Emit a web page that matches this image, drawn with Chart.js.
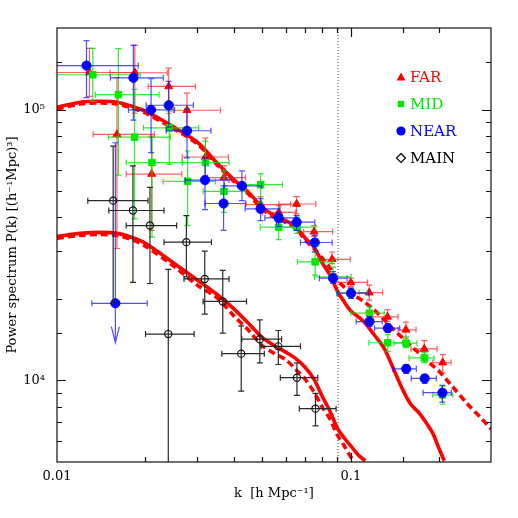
<!DOCTYPE html>
<html><head><meta charset="utf-8">
<script src="https://cdn.jsdelivr.net/npm/chart.js@4.4.1/dist/chart.umd.min.js"></script>
<style>html,body{margin:0;padding:0;background:#fff}canvas{display:block}</style>
</head><body>
<canvas id="c" width="518" height="518"></canvas>
<script>
// ---------------- data ----------------
const FAR_K   = [0.0129,0.0160,0.0184,0.0210,0.0240,0.0277,0.0320,0.0370,0.0493,0.0568,0.0654,0.0750,0.0864,0.100,0.1155,0.1333,0.1540,0.1778,0.2055];
const FAR_P   = [1.37e5,8.10e4,1.367e5,5.78e4,1.217e5,9.94e4,6.68e4,5.61e4,4.46e4,4.17e4,4.48e4,3.54e4,2.80e4,2.30e4,2.11e4,1.717e4,1.538e4,1.307e4,1.164e4];
const FAR_KLO = [0.009,0.01327,0.01516,0.0172,0.02045,0.02488,0.0267,0.0325,0.0438,0.0500,0.0569,0.0691,0.0778,0.0889,0.1067,0.1173,0.1448,0.1603,0.1900];
const FAR_KHI = [0.01875,0.02144,0.02374,0.0266,0.0296,0.0360,0.0383,0.0438,0.0624,0.0649,0.0760,0.0867,0.0995,0.1140,0.1283,0.1448,0.1667,0.1966,0.2194];
const FAR_PLO = [1.119e5,3.07e4,9.69e4,3.58e4,9.69e4,8.54e4,5.69e4,5.02e4,4.17e4,3.89e4,4.12e4,3.40e4,2.70e4,2.22e4,1.98e4,1.650e4,1.434e4,1.211e4,1.067e4];
const FAR_PHI = [1.682e5,1.313e5,1.728e5,7.98e4,1.421e5,1.150e5,7.85e4,6.20e4,4.77e4,4.42e4,4.77e4,3.73e4,2.98e4,2.385e4,2.25e4,1.822e4,1.642e4,1.402e4,1.245e4];

const MID_K   = [0.01324,0.01618,0.01836,0.02105,0.02411,0.02784,0.0320,0.0370,0.0493,0.0568,0.0656,0.0756,0.0870,0.100,0.1157,0.1336,0.1543,0.1781,0.2052];
const MID_P   = [1.344e5,1.135e5,7.91e4,6.37e4,8.56e4,5.43e4,6.37e4,4.99e4,5.28e4,3.68e4,3.68e4,2.74e4,2.41e4,2.10e4,1.771e4,1.378e4,1.373e4,1.211e4,8.85e3];
const MID_KLO = [0.009,0.01351,0.01497,0.0172,0.0197,0.02296,0.0268,0.03143,0.0421,0.0492,0.0568,0.0658,0.0752,0.0897,0.100,0.1152,0.1402,0.1578,0.1900];
const MID_KHI = [0.0192,0.02224,0.02431,0.02665,0.03035,0.03461,0.0385,0.0438,0.0585,0.0651,0.0760,0.0867,0.1002,0.1143,0.1299,0.1502,0.1680,0.1920,0.2224];
const MID_PLO = [1.073e5,5.73e4,3.95e4,3.38e4,6.28e4,3.73e4,5.37e4,4.17e4,4.54e4,3.31e4,3.49e4,2.45e4,2.31e4,2.01e4,1.674e4,1.280e4,1.321e4,1.164e4,8.17e3];
const MID_PHI = [1.682e5,1.678e5,1.187e5,7.87e4,9.86e4,7.03e4,7.65e4,5.94e4,5.79e4,4.00e4,4.00e4,2.98e4,2.62e4,2.19e4,1.873e4,1.475e4,1.450e4,1.266e4,9.53e3];

const NEAR_K   = [0.0126,0.0158,0.0182,0.0209,0.0240,0.0277,0.0319,0.0369,0.0426,0.0493,0.0568,0.0654,0.0754,0.0870,0.1002,0.1158,0.1337,0.1544,0.1784,0.2049];
const NEAR_P   = [1.453e5,1.927e4,1.310e5,9.97e4,1.037e5,8.35e4,5.49e4,4.50e4,5.23e4,4.30e4,3.98e4,3.84e4,3.23e4,2.385e4,2.10e4,1.650e4,1.560e4,1.104e4,1.017e4,9.01e3];
const NEAR_KLO = [0.009,0.01314,0.0152,0.01751,0.0201,0.02355,0.0273,0.0319,0.0371,0.0437,0.0510,0.0559,0.0674,0.0782,0.0898,0.1043,0.1205,0.1391,0.1606,0.1761];
const NEAR_KHI = [0.0189,0.02028,0.0230,0.02513,0.0291,0.0334,0.0385,0.0439,0.0497,0.0574,0.0649,0.0754,0.0864,0.0971,0.1149,0.1279,0.1467,0.1671,0.1954,0.2199];
const NEAR_PLO = [1.107e5,1.378e4,9.14e4,6.93e4,8.61e4,6.63e4,4.27e4,3.58e4,4.61e4,3.89e4,3.70e4,3.58e4,2.98e4,2.28e4,2.01e4,1.582e4,1.504e4,1.061e4,9.75e3,8.32e3];
const NEAR_PHI = [1.796e5,7.54e4,1.725e5,1.299e5,1.270e5,1.003e5,6.63e4,5.23e4,5.94e4,4.69e4,4.18e4,4.06e4,3.43e4,2.52e4,2.19e4,1.721e4,1.618e4,1.145e4,1.052e4,9.59e3];
const NEAR_UPPER_LIMIT_INDEX = [1];   // drawn with a downward arrow

const MAIN_K   = [0.01553,0.01813,0.02072,0.02392,0.02756,0.03183,0.03666,0.04236,0.04901,0.05666,0.06556,0.07582];
const MAIN_P   = [4.61e4,4.24e4,3.73e4,1.483e4,3.24e4,2.37e4,1.957e4,1.256e4,1.420e4,1.336e4,1.024e4,7.87e3];
const MAIN_KLO = [0.01273,0.01501,0.0172,0.02001,0.02313,0.02706,0.03143,0.03638,0.04256,0.0495,0.05755,0.06679];
const MAIN_KHI = [0.0204,0.02313,0.02554,0.02929,0.03355,0.0385,0.04416,0.05077,0.05814,0.0674,0.07717,0.0891];
const MAIN_PLO = [1.93e4,2.30e4,2.28e4,1000,2.41e4,1.757e4,1.496e4,9.14e3,1.161e4,1.145e4,8.81e3,6.80e3];
const MAIN_PHI = [7.33e4,6.20e4,5.16e4,2.57e4,4.06e4,3.00e4,2.55e4,1.591e4,1.674e4,1.529e4,1.161e4,8.96e3];

// model curves
const UP_SOLID_K = [0.01,0.012,0.014,0.016,0.018,0.02,0.025,0.03,0.035,0.04,0.045,0.05,0.055,0.06,0.065,0.07,0.075,0.08,0.085,0.09,0.095,0.1,0.11,0.12,0.13,0.14,0.15,0.16,0.17,0.18,0.19,0.2,0.208];
const UP_SOLID_P = [1.020e5,1.064e5,1.073e5,1.064e5,1.028e5,9.86e4,8.61e4,7.59e4,6.36e4,5.51e4,4.93e4,4.35e4,4.06e4,3.89e4,3.70e4,3.35e4,3.10e4,2.71e4,2.45e4,2.138e4,1.949e4,1.806e4,1.660e4,1.475e4,1.311e4,1.097e4,9.27e3,8.17e3,7.63e3,7.01e3,6.39e3,5.58e3,5.05e3];
const UP_DASH_K  = [0.01,0.012,0.014,0.016,0.018,0.02,0.025,0.03,0.035,0.04,0.045,0.05,0.055,0.06,0.065,0.07,0.075,0.08,0.085,0.09,0.095,0.1,0.11,0.12,0.13,0.14,0.15,0.16,0.17,0.18,0.19,0.2,0.22,0.25,0.28,0.3];
const UP_DASH_P  = [1.005e5,1.048e5,1.057e5,1.048e5,1.013e5,9.71e4,8.48e4,7.48e4,6.26e4,5.43e4,4.86e4,4.28e4,4.00e4,3.83e4,3.64e4,3.30e4,3.06e4,2.825e4,2.60e4,2.35e4,2.21e4,2.10e4,1.965e4,1.822e4,1.674e4,1.538e4,1.438e4,1.343e4,1.266e4,1.194e4,1.135e4,1.079e4,9.59e3,8.17e3,7.19e3,6.61e3];
const LO_SOLID_K = [0.01,0.012,0.014,0.016,0.018,0.02,0.025,0.03,0.035,0.04,0.045,0.05,0.055,0.06,0.065,0.07,0.075,0.08,0.085,0.09,0.095,0.1,0.106,0.112];
const LO_SOLID_P = [3.40e4,3.49e4,3.52e4,3.49e4,3.37e4,3.21e4,2.71e4,2.35e4,2.08e4,1.837e4,1.618e4,1.438e4,1.344e4,1.272e4,1.204e4,1.116e4,1.009e4,8.73e3,7.69e3,6.67e3,6.13e3,5.73e3,5.31e3,5.05e3];
const LO_DASH_K  = [0.01,0.012,0.014,0.016,0.018,0.02,0.025,0.03,0.035,0.04,0.045,0.05,0.055,0.06,0.065,0.07,0.075,0.08,0.085,0.09,0.095,0.1,0.1025];
const LO_DASH_P  = [3.35e4,3.43e4,3.46e4,3.43e4,3.31e4,3.13e4,2.64e4,2.25e4,2.02e4,1.731e4,1.526e4,1.343e4,1.256e4,1.194e4,1.097e4,1.009e4,9.04e3,7.96e3,7.19e3,6.29e3,5.73e3,5.22e3,5.05e3];

const K_MAX = 0.0905;          // dotted vertical line
const X_RANGE = [0.01, 0.3];
const Y_RANGE = [5000, 2e5];
const X_TICK_VALUES = [0.01, 0.1];
const X_TICK_LABELS = ['0.01', '0.1'];
const Y_TICK_VALUES = [1e4, 1e5];
const Y_TICK_LABELS = ['10\u2074', '10\u2075'];
const X_TITLE = 'k  [h Mpc\u207B\u00B9]';
const Y_TITLE = 'Power spectrum P(k) [(h\u207B\u00B9Mpc)\u00B3]';
const LEGEND_LABELS = ['FAR', 'MID', 'NEAR', 'MAIN'];

// ---------------- chart ----------------
const FONT = 'DejaVu Serif';
const pts = (ks, ps) => ks.map((k, i) => ({x: k, y: ps[i]}));
const near = (a, b) => Math.abs(Math.log10(a) - Math.log10(b)) < 1e-6;

const ERR = {
  FAR:  {kLo: FAR_KLO,  kHi: FAR_KHI,  pLo: FAR_PLO,  pHi: FAR_PHI,  color: 'rgba(255,30,30,0.72)'},
  MID:  {kLo: MID_KLO,  kHi: MID_KHI,  pLo: MID_PLO,  pHi: MID_PHI,  color: 'rgba(0,225,0,0.8)'},
  NEAR: {kLo: NEAR_KLO, kHi: NEAR_KHI, pLo: NEAR_PLO, pHi: NEAR_PHI, color: 'rgba(20,20,255,0.75)', arrows: NEAR_UPPER_LIMIT_INDEX},
  MAIN: {kLo: MAIN_KLO, kHi: MAIN_KHI, pLo: MAIN_PLO, pHi: MAIN_PHI, color: '#2a2a2a'}
};

const errorBarPlugin = {
  id: 'errorBars',
  beforeDatasetDraw(chart, args) {
    const ds = chart.data.datasets[args.index];
    const eb = ERR[ds.label];
    if (!eb) return;
    const {ctx, chartArea: a, scales: {x, y}} = chart;
    ctx.save();
    ctx.beginPath(); ctx.rect(a.left, a.top, a.right - a.left, a.bottom - a.top); ctx.clip();
    ctx.strokeStyle = eb.color; ctx.lineWidth = 1.2;
    const cap = 3;
    ds.data.forEach((p, i) => {
      const px = x.getPixelForValue(p.x), py = y.getPixelForValue(p.y);
      const x0 = x.getPixelForValue(eb.kLo[i]), x1 = x.getPixelForValue(eb.kHi[i]);
      const y0 = y.getPixelForValue(eb.pHi[i]), y1 = y.getPixelForValue(eb.pLo[i]);
      ctx.beginPath();
      ctx.moveTo(x0, py); ctx.lineTo(x1, py);
      ctx.moveTo(x0, py - cap); ctx.lineTo(x0, py + cap);
      ctx.moveTo(x1, py - cap); ctx.lineTo(x1, py + cap);
      ctx.moveTo(px, y0); ctx.lineTo(px, y1);
      ctx.moveTo(px - cap, y0); ctx.lineTo(px + cap, y0);
      if (eb.arrows && eb.arrows.includes(i)) {
        ctx.moveTo(px - 4, y1 - 16); ctx.lineTo(px, y1); ctx.lineTo(px + 4, y1 - 16);
      } else {
        ctx.moveTo(px - cap, y1); ctx.lineTo(px + cap, y1);
      }
      ctx.stroke();
    });
    ctx.restore();
  }
};

const isDecade = v => Math.abs(Math.log10(v) - Math.round(Math.log10(v))) < 1e-6;

const framePlugin = {
  id: 'frame',
  afterDraw(chart) {
    const {ctx, chartArea: a, scales: {x, y}} = chart;
    ctx.save();
    ctx.strokeStyle = '#111'; ctx.lineWidth = 1.2;
    ctx.strokeRect(a.left, a.top, a.right - a.left, a.bottom - a.top);
    ctx.beginPath();
    x.ticks.forEach(t => {
      const px = Math.round(x.getPixelForValue(t.value)) + 0.5;
      if (px <= a.left + 1 || px >= a.right - 1) return;
      const len = isDecade(t.value) ? 9 : 5;
      ctx.moveTo(px, a.bottom); ctx.lineTo(px, a.bottom - len);
      ctx.moveTo(px, a.top); ctx.lineTo(px, a.top + len);
    });
    y.ticks.forEach(t => {
      const py = Math.round(y.getPixelForValue(t.value)) + 0.5;
      if (py <= a.top + 1 || py >= a.bottom - 1) return;
      const len = isDecade(t.value) ? 9 : 5;
      ctx.moveTo(a.left, py); ctx.lineTo(a.left + len, py);
      ctx.moveTo(a.right, py); ctx.lineTo(a.right - len, py);
    });
    ctx.stroke();
    ctx.restore();
  }
};

const LEGEND_STYLE = [
  {color: '#ff0000', marker: 'triangle'},
  {color: '#00e800', marker: 'square'},
  {color: '#0000ff', marker: 'circle'},
  {color: '#000000', marker: 'diamond'}
];
const legendPlugin = {
  id: 'insideLegend',
  afterDraw(chart) {
    const {ctx, chartArea: a} = chart;
    const mx = a.right - 90, tx = a.right - 81, y0 = a.top + 49, dy = 27;
    ctx.save();
    ctx.font = '15px "' + FONT + '"';
    ctx.textBaseline = 'middle'; ctx.textAlign = 'left';
    LEGEND_LABELS.forEach((lab, i) => {
      const st = LEGEND_STYLE[i], cy = y0 + i * dy;
      ctx.fillStyle = st.color; ctx.strokeStyle = st.color; ctx.lineWidth = 1.2;
      ctx.beginPath();
      if (st.marker === 'triangle') {
        ctx.moveTo(mx, cy - 4.5); ctx.lineTo(mx + 4.5, cy + 3.5); ctx.lineTo(mx - 4.5, cy + 3.5); ctx.closePath(); ctx.fill();
      } else if (st.marker === 'square') {
        ctx.rect(mx - 3.2, cy - 3.2, 6.4, 6.4); ctx.fill();
      } else if (st.marker === 'circle') {
        ctx.arc(mx, cy, 4.6, 0, Math.PI * 2); ctx.fill();
      } else {
        ctx.moveTo(mx, cy - 4.5); ctx.lineTo(mx + 4.5, cy); ctx.lineTo(mx, cy + 4.5); ctx.lineTo(mx - 4.5, cy); ctx.closePath(); ctx.stroke();
      }
      ctx.fillText(lab, tx, cy + 1);
    });
    ctx.restore();
  }
};

const curve = (ks, ps, dashed) => ({
  label: dashed ? 'model (dashed)' : 'model',
  data: pts(ks, ps), showLine: true, borderColor: '#ff0000', backgroundColor: '#ff0000',
  borderWidth: 3.6, pointRadius: 0, borderDash: dashed ? [7, 4] : [], tension: 0.3,
  order: 10, clip: 0
});

new Chart(document.getElementById('c'), {
  type: 'scatter',
  data: {
    datasets: [
      {label: 'FAR', data: pts(FAR_K, FAR_P), pointStyle: 'triangle', pointRadius: 4.6,
       backgroundColor: '#ff0000', borderColor: '#ff0000', borderWidth: 1, order: 3},
      {label: 'MID', data: pts(MID_K, MID_P), pointStyle: 'rect', pointRadius: 4.6,
       backgroundColor: '#00e800', borderColor: '#00e800', borderWidth: 1, order: 2},
      {label: 'NEAR', data: pts(NEAR_K, NEAR_P), pointStyle: 'circle', pointRadius: 4.6,
       backgroundColor: '#0000ff', borderColor: '#0000ff', borderWidth: 1, order: 1},
      {label: 'MAIN', data: pts(MAIN_K, MAIN_P), pointStyle: 'circle', pointRadius: 3.6,
       backgroundColor: 'rgba(0,0,0,0)', borderColor: '#111', borderWidth: 1.2, order: 0},
      curve(UP_SOLID_K, UP_SOLID_P, false),
      curve(UP_DASH_K, UP_DASH_P, true),
      curve(LO_SOLID_K, LO_SOLID_P, false),
      curve(LO_DASH_K, LO_DASH_P, true),
      {label: 'k max', data: [{x: K_MAX, y: Y_RANGE[0]}, {x: K_MAX, y: Y_RANGE[1]}], showLine: true,
       borderColor: '#444', borderWidth: 1, borderDash: [1, 2], pointRadius: 0, order: 11, clip: 0}
    ]
  },
  options: {
    responsive: false, animation: false, devicePixelRatio: 1, events: [],
    layout: {padding: {top: 28, right: 27, left: 0, bottom: 0}},
    plugins: {legend: {display: false}, tooltip: {enabled: false}, title: {display: false}},
    scales: {
      x: {
        type: 'logarithmic', min: X_RANGE[0], max: X_RANGE[1],
        afterFit(s) { s.height = 56; },
        grid: {display: false, drawTicks: false}, border: {display: false},
        ticks: {autoSkip: false, maxRotation: 0, minRotation: 0, padding: 7, color: '#000',
                font: {family: FONT, size: 13},
                callback(v) { const i = X_TICK_VALUES.findIndex(t => near(t, v)); return i >= 0 ? X_TICK_LABELS[i] : ''; }},
        title: {display: true, text: X_TITLE, color: '#000', font: {family: FONT, size: 13}, padding: {top: 0, bottom: 17}}
      },
      y: {
        type: 'logarithmic', min: Y_RANGE[0], max: Y_RANGE[1],
        afterFit(s) { s.width = 57; },
        grid: {display: false, drawTicks: false}, border: {display: false},
        ticks: {autoSkip: false, padding: 12, color: '#000', font: {family: FONT, size: 13},
                callback(v) { const i = Y_TICK_VALUES.findIndex(t => near(t, v)); return i >= 0 ? Y_TICK_LABELS[i] : ''; }},
        title: {display: true, text: Y_TITLE, color: '#000', font: {family: FONT, size: 13}, padding: {top: 5, bottom: 0}}
      }
    }
  },
  plugins: [errorBarPlugin, framePlugin, legendPlugin]
});
</script>
</body></html>
